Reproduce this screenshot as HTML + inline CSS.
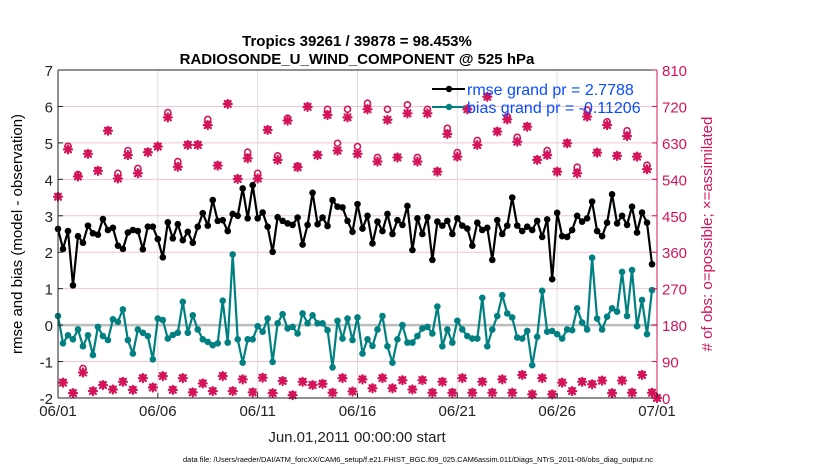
<!DOCTYPE html>
<html><head><meta charset="utf-8"><style>
html,body{margin:0;padding:0;background:#fff;}
svg{display:block;font-family:"Liberation Sans",Arial,sans-serif;}
</style></head><body>
<svg id="chart" width="830" height="470" viewBox="0 0 830 470" xmlns="http://www.w3.org/2000/svg">
<text x="357" y="46" text-anchor="middle" font-size="15" font-weight="bold">Tropics 39261 / 39878 = 98.453%</text>
<text x="357" y="64" text-anchor="middle" font-size="15" font-weight="bold">RADIOSONDE_U_WIND_COMPONENT @ 525 hPa</text>
<g id="grid"></g><g id="marks"></g><g id="axes"></g>
<text transform="translate(22,234) rotate(-90)" text-anchor="middle" font-size="15">rmse and bias (model - observation)</text>
<text transform="translate(712,234) rotate(-90)" text-anchor="middle" font-size="15" fill="#d4145a">
# of obs: o=possible; ×=assimilated</text>
<text x="357" y="442" text-anchor="middle" font-size="15" fill="#222">Jun.01,2011 00:00:00 start</text>
<text x="418" y="462" text-anchor="middle" font-size="7.5">data file: /Users/raeder/DAI/ATM_forcXX/CAM6_setup/f.e21.FHIST_BGC.f09_025.CAM6assim.011/Diags_NTrS_2011-06/obs_diag_output.nc</text>
<g id="legend">
<line x1="432" y1="89" x2="465" y2="89" stroke="#000" stroke-width="2"/><circle cx="449" cy="89" r="3.2" fill="#000"/>
<text x="467" y="95" font-size="16" fill="#0a4cff">rmse grand pr = 2.7788</text>
<line x1="432" y1="107" x2="465" y2="107" stroke="#008080" stroke-width="2"/><circle cx="449" cy="107" r="3.2" fill="#008080"/>
<text x="467" y="113" font-size="16" fill="#0a4cff">bias grand pr = -0.11206</text>
</g>
</svg>
<script>
const xTickLabels=["06/01","06/06","06/11","06/16","06/21","06/26","07/01"];
const leftTicks=[-2,-1,0,1,2,3,4,5,6,7];
const rightTicks=[0,90,180,270,360,450,540,630,720,810];
const rmse=[2.64,2.09,2.58,1.09,2.44,2.26,2.73,2.52,2.48,2.91,2.61,2.67,2.18,2.09,2.54,2.61,2.58,2.08,2.7,2.7,2.36,1.86,2.82,2.38,2.77,2.33,2.56,2.26,2.7,3.07,2.73,3.43,2.86,2.88,2.58,3.05,3.0,3.75,2.93,3.84,2.93,3.09,2.7,2.01,2.96,2.86,2.79,2.75,2.95,2.21,2.75,3.63,2.77,2.95,2.72,3.43,3.25,3.23,2.86,2.56,3.32,2.65,3.0,2.24,2.84,2.58,3.05,2.5,2.88,2.75,3.27,2.06,2.93,2.5,2.96,1.79,2.84,2.73,2.86,2.5,2.93,2.73,2.65,2.18,2.81,2.61,2.67,1.79,2.88,2.5,2.73,3.5,2.73,2.58,2.7,2.61,2.86,2.42,2.9,1.26,3.08,2.44,2.42,2.61,3.0,2.84,2.93,3.39,2.58,2.44,2.81,3.59,2.79,3.0,2.75,3.25,2.54,3.09,2.81,1.67];
const bias=[0.25,-0.5,-0.28,-0.39,-0.12,-0.58,-0.28,-0.82,-0.05,-0.3,-0.41,0.16,0.09,0.43,-0.41,-0.78,-0.12,-0.21,-0.3,-0.94,0.18,0.14,-0.37,-0.27,-0.21,0.64,-0.21,0.27,-0.12,-0.39,-0.46,-0.55,-0.5,0.67,-0.48,1.94,-0.39,-1.03,-0.39,-0.39,-0.03,-0.18,0.18,-1.01,0.05,0.3,-0.09,-0.05,-0.23,0.32,0.05,0.27,0.05,0.05,-0.14,-1.16,0.12,-0.37,0.18,-0.41,0.21,-0.78,-0.39,-0.57,-0.12,0.25,-0.58,-1.03,-0.39,0.0,-0.48,-0.48,-0.3,-0.09,-0.05,-0.23,0.51,-0.58,-0.12,-0.48,0.12,-0.12,-0.3,-0.37,-0.37,0.75,-0.58,-0.12,0.25,0.82,0.32,0.21,-0.34,-0.37,-0.16,-1.1,-0.32,0.94,-0.18,-0.16,-0.25,-0.37,-0.12,-0.14,0.46,0.07,-0.12,1.85,0.18,-0.12,0.23,0.46,0.37,1.46,0.25,1.51,-0.03,0.69,-0.25,0.96];
const assimilated=[497,38,614,12,547,63,603,17,561,32,660,21,542,40,600,20,555,49,607,26,621,54,693,20,571,49,625,14,625,36,674,17,574,54,726,17,541,46,592,14,542,50,662,12,588,42,685,7,570,40,719,32,600,35,699,13,611,49,693,16,603,46,713,24,584,49,687,24,594,44,703,21,584,44,703,13,559,40,652,13,596,49,713,13,625,40,744,13,658,46,688,13,633,57,670,9,588,49,600,9,559,38,629,17,555,40,695,34,606,43,674,12,598,43,647,13,596,57,565,13,0];
const possible=[497,38,622,12,552,73,603,17,561,32,660,21,555,40,611,20,567,49,607,26,621,54,705,20,584,49,625,14,625,36,688,17,574,54,726,17,541,46,607,14,555,50,662,12,598,42,691,7,573,40,719,32,600,35,713,13,629,49,713,16,621,46,728,24,594,49,713,24,594,44,724,21,594,44,713,13,559,40,666,13,606,49,713,13,636,40,744,13,658,46,695,13,644,57,670,9,588,49,611,9,559,38,629,17,570,40,711,34,606,43,682,12,598,43,660,13,596,57,575,13,0];

const X0=58,X1=657,YT=70,YB=398,NS="http://www.w3.org/2000/svg";
const xs=t=>X0+t*(X1-X0)/30;           // t in days
const yL=v=>YB-(v+2)*(YB-YT)/9;
const yR=c=>YB-c*(YB-YT)/810;
const PINK="#d4145a";
function mk(tag,attrs,parent){const e=document.createElementNS(NS,tag);for(const k in attrs)e.setAttribute(k,attrs[k]);parent.appendChild(e);return e;}
const grid=document.getElementById('grid'),marks=document.getElementById('marks'),axes=document.getElementById('axes');

mk('rect',{x:X0,y:YT,width:X1-X0,height:YB-YT,fill:'#fff'},grid);
rightTicks.forEach(c=>{const l=mk('line',{x1:X0,x2:X1,y1:yR(c),y2:yR(c),stroke:'#f3c4d4','stroke-width':1},grid);

});
xTickLabels.forEach((s,i)=>{const x=xs(i*5);const l=mk('line',{x1:x,x2:x,y1:YT,y2:YB,stroke:'#dcdcdc','stroke-width':1},grid);

});
const zl=mk('line',{x1:X0,x2:X1,y1:yL(0),y2:yL(0),stroke:'#bdbdbd','stroke-width':2.5},grid);



// obs counts
assimilated.forEach((c,i)=>{const x=xs(i/4);
 if(possible[i]!==c){const o=mk('circle',{cx:x,cy:yR(possible[i]),r:3,fill:'#fff',stroke:PINK,'stroke-width':1.6},marks);
 
 }
 const y=yR(c);const g=mk('g',{stroke:PINK,'stroke-width':2.2,'stroke-linecap':'round'},marks);
 
 
 mk('line',{x1:x-4,x2:x+4,y1:y,y2:y},g);mk('line',{x1:x,x2:x,y1:y-4,y2:y+4},g);
 mk('line',{x1:x-3,x2:x+3,y1:y-3,y2:y+3},g);mk('line',{x1:x-3,x2:x+3,y1:y+3,y2:y-3},g);
 if(possible[i]===c){const o=mk('circle',{cx:x,cy:y-1,r:2.6,fill:'none',stroke:PINK,'stroke-width':1.4},marks);
 
 }
});

function series(arr,color,name){
 const pts=arr.map((v,i)=>xs(i/4).toFixed(1)+','+yL(v).toFixed(1)).join(' ');
 const pl=mk('polyline',{points:pts,fill:'none',stroke:color,'stroke-width':2.2,'stroke-linejoin':'round'},marks);
 
 
 arr.forEach((v,i)=>{const c=mk('circle',{cx:xs(i/4),cy:yL(v),r:3.3,fill:color},marks);
 
 });
}
series(bias,'#008080','bias');
series(rmse,'#000000','rmse');

// axes
mk('line',{x1:X0,x2:X1,y1:YT,y2:YT,stroke:'#222','stroke-width':1},axes);
mk('line',{x1:X0,x2:X1,y1:YB,y2:YB,stroke:'#222','stroke-width':1},axes);
mk('line',{x1:X0,x2:X0,y1:YT,y2:YB,stroke:'#222','stroke-width':1},axes);
mk('line',{x1:X1,x2:X1,y1:YT,y2:YB,stroke:PINK,'stroke-width':1},axes);
leftTicks.forEach(v=>{const y=yL(v);mk('line',{x1:X0,x2:X0+5,y1:y,y2:y,stroke:'#222'},axes);
 const t=mk('text',{x:X0-5,y:y+6,'text-anchor':'end','font-size':15,fill:'#222'},axes);t.textContent=v;
 
 });
rightTicks.forEach(c=>{const y=yR(c);mk('line',{x1:X1-5,x2:X1,y1:y,y2:y,stroke:PINK},axes);
 const t=mk('text',{x:X1+5,y:y+6,'font-size':15,fill:PINK},axes);t.textContent=c;
 
 });
xTickLabels.forEach((s,i)=>{const x=xs(i*5);mk('line',{x1:x,x2:x,y1:YB-5,y2:YB,stroke:'#222'},axes);
 const t=mk('text',{x:x,y:YB+18,'text-anchor':'middle','font-size':15,fill:'#222'},axes);t.textContent=s;
 
 });
</script>
</body></html>
